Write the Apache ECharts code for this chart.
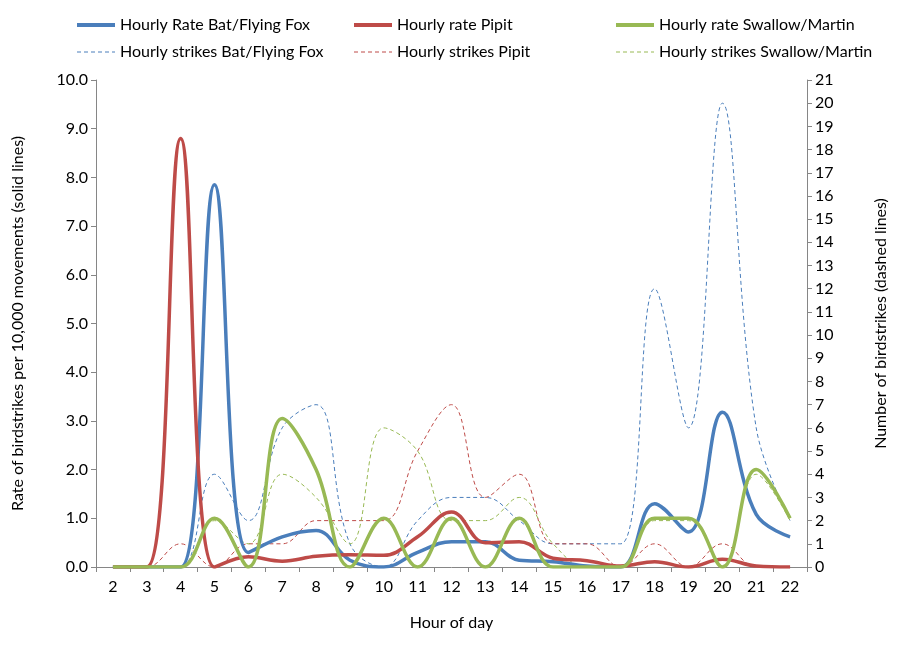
<!DOCTYPE html>
<html>
<head>
<meta charset="utf-8">
<script src="https://cdn.jsdelivr.net/npm/echarts@6/dist/echarts.min.js"></script>
<style>html,body{margin:0;padding:0;background:#fff;}#c{width:903px;height:645px;}</style>
</head>
<body>
<div id="c"></div>
<script>
var hours = ['2','3','4','5','6','7','8','9','10','11','12','13','14','15','16','17','18','19','20','21','22'];
var batRate      = [0,0,0,7.85,0.3,0.62,0.75,0.14,0,0.3,0.52,0.52,0.14,0.11,0.02,0,1.3,0.72,3.18,1.08,0.62];
var pipitRate    = [0,0,8.8,0,0.21,0.12,0.22,0.25,0.24,0.62,1.13,0.5,0.52,0.18,0.13,0.02,0.11,0,0.16,0.02,0];
var swallowRate  = [0,0,0,1.0,0,3.05,2.0,0,1.0,0,1.0,0,1.0,0,0,0,1.0,1.0,0,2.0,1.0];
var batStrikes     = [0,0,0,4,2,6,7,1,0,2,3,3,2,1,1,1,12,6,20,6,2];
var pipitStrikes   = [0,0,1,0,1,1,2,2,2,5,7,3,4,1,1,0,1,0,1,0,0];
var swallowStrikes = [0,0,0,2,1,4,3,1,6,5,2,2,3,1,0,0,2,2,0,4,2];

var names = {
  br: 'Hourly Rate Bat/Flying Fox', pr: 'Hourly rate Pipit', sr: 'Hourly rate Swallow/Martin',
  bs: 'Hourly strikes Bat/Flying Fox', ps: 'Hourly strikes Pipit', ss: 'Hourly strikes Swallow/Martin'
};
var BLUE = '#4A7EBB', RED = '#BE4B48', GREEN = '#98B954';
var FONT = 'Lato';
var SM = 0.4;

function solid(name, data, color) {
  return { name: name, type: 'line', data: data, yAxisIndex: 0, smooth: SM, symbol: 'none', z: 3,
    lineStyle: { color: color, width: 3.5 }, itemStyle: { color: color } };
}
function dashed(name, data, color) {
  return { name: name, type: 'line', data: data, yAxisIndex: 1, smooth: SM, symbol: 'none', z: 2,
    lineStyle: { color: color, width: 1, type: [4, 3] }, itemStyle: { color: color } };
}
function legend(left, a, ca, b) {
  return { left: left, top: 12, orient: 'vertical', itemGap: 11, itemWidth: 38, itemHeight: 14,
    data: [
      { name: a, lineStyle: { width: 4, color: ca, type: 'solid' } },
      { name: b, lineStyle: { width: 1, color: ca, type: [4, 3] } }
    ],
    itemStyle: { opacity: 0 },
    textStyle: { fontFamily: FONT, fontSize: 16, color: '#000' } };
}
var axisLine = { show: true, lineStyle: { color: '#868686', width: 1 } };
var chart = echarts.init(document.getElementById('c'), null, { renderer: 'canvas' });
chart.setOption({
  animation: false,
  backgroundColor: '#fff',
  legend: [ legend(70, names.br, BLUE, names.bs), legend(347, names.pr, RED, names.ps), legend(609, names.sr, GREEN, names.ss) ],
  grid: { left: 96, right: 96, top: 80, bottom: 78, containLabel: false },
  xAxis: {
    type: 'category', data: hours, boundaryGap: true,
    name: 'Hour of day', nameLocation: 'middle', nameGap: 48,
    nameTextStyle: { fontFamily: FONT, fontSize: 16, color: '#000' },
    axisLine: axisLine, axisTick: { show: true, length: 5, lineStyle: { color: '#868686' } },
    axisLabel: { fontFamily: FONT, fontSize: 16, color: '#000', margin: 12, interval: 0 },
    splitLine: { show: false }
  },
  yAxis: [
    { type: 'value', min: 0, max: 10, interval: 1, position: 'left',
      name: 'Rate of birdstrikes per 10,000 movements (solid lines)', nameLocation: 'middle', nameGap: 70, nameRotate: 90,
      nameTextStyle: { fontFamily: FONT, fontSize: 16, color: '#000' },
      axisLine: axisLine, axisTick: { show: true, length: 5, lineStyle: { color: '#868686' } },
      axisLabel: { fontFamily: FONT, fontSize: 16, color: '#000', margin: 8, formatter: function (v) { return v.toFixed(1); } },
      splitLine: { show: false } },
    { type: 'value', min: 0, max: 21, interval: 1, position: 'right',
      name: 'Number of birdstrikes (dashed lines)', nameLocation: 'middle', nameGap: 66, nameRotate: 90,
      nameTextStyle: { fontFamily: FONT, fontSize: 16, color: '#000' },
      axisLine: axisLine, axisTick: { show: true, length: 5, lineStyle: { color: '#868686' } },
      axisLabel: { fontFamily: FONT, fontSize: 16, color: '#000', margin: 8 },
      splitLine: { show: false } }
  ],
  series: [
    dashed(names.bs, batStrikes, BLUE),
    dashed(names.ps, pipitStrikes, RED),
    dashed(names.ss, swallowStrikes, GREEN),
    solid(names.br, batRate, BLUE),
    solid(names.pr, pipitRate, RED),
    solid(names.sr, swallowRate, GREEN)
  ]
});
</script>
</body>
</html>
